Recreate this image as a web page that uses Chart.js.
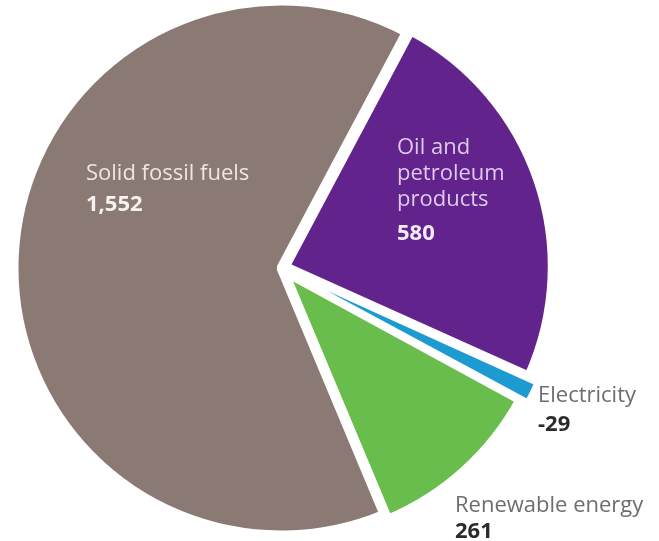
<!DOCTYPE html>
<html>
<head>
<meta charset="utf-8">
<script src="https://cdn.jsdelivr.net/npm/chart.js@4/dist/chart.umd.min.js"></script>
<style>
  html, body { margin: 0; padding: 0; background: #ffffff; }
  #wrap { width: 659px; height: 541px; position: relative; }
</style>
</head>
<body>
<div id="wrap"><canvas id="pie"></canvas></div>
<script>
// Energy balance by fuel family.
// Slices are listed clockwise starting with renewables so that the thin
// electricity slice is painted last and stays visible between its neighbours.
const categories = ['Renewable energy', 'Solid fossil fuels', 'Oil and petroleum products', 'Electricity'];
const values = [261, 1552, 580, -29];
const valueLabels = ['261', '1,552', '580', '-29'];
const nameLines = [['Renewable energy'], ['Solid fossil fuels'], ['Oil and', 'petroleum', 'products'], ['Electricity']];

const sliceColors = ['#69bd4c', '#8b7a74', '#63238c', '#1d9bd1'];
const sliceOffsets = [18, 0, 18, 26];
const sliceBorders = [9, 9, 9, 3];

// Angle (degrees, clockwise from 12 o'clock) where the oil slice begins
const oilStartAngle = 28;

// Label placement relative to the pie centre (left-aligned, first baseline)
const labelStyle = [
  { dx: 174, dy: 244, name: '#6d6d6d', value: '#2b2b2b', gap: 26 },
  { dx: -195, dy: -88, name: '#eee6e3', value: '#f7f2f0', gap: 31 },
  { dx: 116, dy: -114, name: '#dccbea', value: '#f3ecf8', gap: 34 },
  { dx: 257, dy: 134, name: '#6d6d6d', value: '#2b2b2b', gap: 29 }
];

const total = values.reduce((s, v) => s + Math.abs(v), 0);
// Renewables start where oil and electricity end
const startRotation = oilStartAngle + (Math.abs(values[2]) + Math.abs(values[3])) / total * 360;

const sliceLabels = {
  id: 'sliceLabels',
  afterDatasetsDraw(chart) {
    const ctx = chart.ctx;
    const arc = chart.getDatasetMeta(0).data[0];
    const cx = arc.x, cy = arc.y;
    ctx.save();
    ctx.textAlign = 'left';
    ctx.textBaseline = 'alphabetic';
    categories.forEach((c, i) => {
      const s = labelStyle[i];
      const x = cx + s.dx;
      let y = cy + s.dy;
      ctx.font = '22px "Open Sans"';
      ctx.fillStyle = s.name;
      nameLines[i].forEach((line, k) => {
        ctx.fillText(line, x, y + k * 26);
      });
      y += (nameLines[i].length - 1) * 26 + s.gap;
      ctx.font = 'bold 22px "Open Sans"';
      ctx.fillStyle = s.value;
      ctx.fillText(valueLabels[i], x, y);
    });
    ctx.restore();
  }
};

new Chart(document.getElementById('pie'), {
  type: 'pie',
  data: {
    labels: categories,
    datasets: [{
      data: values,
      backgroundColor: sliceColors,
      borderColor: '#ffffff',
      borderWidth: sliceBorders,
      offset: sliceOffsets,
      radius: 267,
      hoverOffset: 0
    }]
  },
  options: {
    responsive: true,
    maintainAspectRatio: false,
    animation: false,
    rotation: startRotation,
    layout: { padding: { left: 0, right: 97, top: 0, bottom: 5 } },
    plugins: {
      legend: { display: false },
      tooltip: { enabled: false }
    },
    events: []
  },
  plugins: [sliceLabels]
});
</script>
</body>
</html>
